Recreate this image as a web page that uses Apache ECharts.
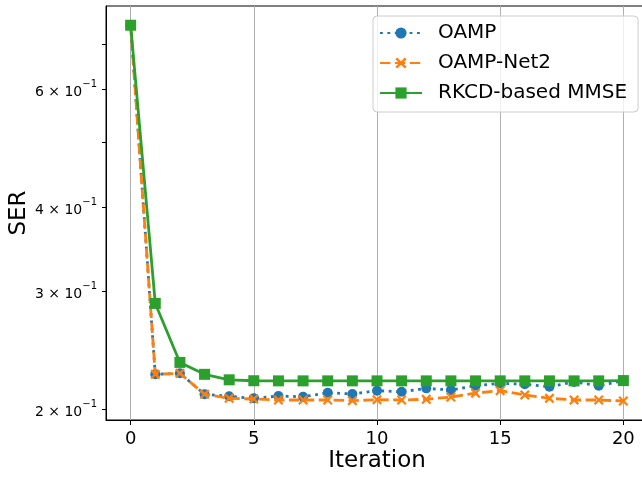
<!DOCTYPE html>
<html>
<head>
<meta charset="utf-8">
<script src="https://cdn.jsdelivr.net/npm/echarts@6/dist/echarts.min.js"></script>
<style>
  html, body { margin: 0; padding: 0; background: #fff; }
  #chart { width: 642px; height: 479px; }
</style>
</head>
<body>
<div id="chart"></div>
<script>
// Iteration index on the x axis
const iterations = [0, 1, 2, 3, 4, 5, 6, 7, 8, 9, 10, 11, 12, 13, 14, 15, 16, 17, 18, 19, 20];

// Symbol error rate per iteration for each detector
const oampSER = [0.747, 0.2253, 0.2261, 0.2104, 0.2089, 0.2075, 0.2091, 0.2086, 0.2115, 0.2106,
                 0.2130, 0.2122, 0.2147, 0.2135, 0.2167, 0.2185, 0.2177, 0.2159, 0.2195, 0.2167, 0.2205];
const oampNet2SER = [0.747, 0.2253, 0.2261, 0.2104, 0.2075, 0.2070, 0.2063, 0.2063, 0.2063, 0.2058,
                     0.2065, 0.2063, 0.2068, 0.2084, 0.2112, 0.2130, 0.2099, 0.2075, 0.2063, 0.2063, 0.2056];
const rkcdSER = [0.747, 0.2874, 0.2347, 0.2253, 0.2211, 0.2204, 0.2203, 0.2203, 0.2203, 0.2203,
                 0.2203, 0.2203, 0.2203, 0.2203, 0.2203, 0.2203, 0.2203, 0.2203, 0.2203, 0.2203, 0.2205];

const seriesNames = ['OAMP', 'OAMP-Net2', 'RKCD-based MMSE'];

// Axis ticks and labels
const xTickValues = [0, 5, 10, 15, 20];
const yTickValues = [0.2, 0.3, 0.4, 0.5, 0.6, 0.7];
const yLabelValues = [0.2, 0.3, 0.4, 0.6];

const FONT = 'DejaVu Sans';
const BLUE = '#1f77b4', ORANGE = '#ff7f0e', GREEN = '#2ca02c';
const X_MARK = 'path://M1.6,0 L10,8.4 L8.4,10 L0,1.6 Z M8.4,0 L10,1.6 L1.6,10 L0,8.4 Z';

const toPairs = (ys) => iterations.map((x, i) => [x, ys[i]]);

const chart = echarts.init(document.getElementById('chart'), null, { renderer: 'canvas' });

chart.setOption({
  animation: false,
  backgroundColor: '#ffffff',
  textStyle: { fontFamily: FONT },
  grid: {
    left: 106, top: 6, right: -6, bottom: 59,
    outerBoundsMode: 'none',
    containLabel: false,
    show: true, borderColor: '#000', borderWidth: 1, backgroundColor: 'transparent'
  },
  legend: {
    orient: 'vertical',
    left: 373, top: 16,
    width: 264,
    padding: [7, 11, 9, 6],
    itemWidth: 42, itemHeight: 14, itemGap: 10,
    backgroundColor: 'rgba(255,255,255,0.8)',
    borderColor: '#cccccc', borderWidth: 1, borderRadius: 4,
    textStyle: { fontFamily: FONT, fontSize: 20, color: '#000', lineHeight: 20, padding: [0, 0, 0, 11] },
    data: seriesNames
  },
  xAxis: {
    type: 'value',
    min: -1, max: 21,
    name: 'Iteration', nameLocation: 'middle', nameGap: 30,
    nameMoveOverlap: false,
    nameTextStyle: { fontFamily: FONT, fontSize: 23, color: '#000' },
    axisLine: { show: true, onZero: false, lineStyle: { color: '#000', width: 1 } },
    axisTick: { show: true, inside: false, length: 5, customValues: xTickValues, lineStyle: { color: '#000', width: 1 } },
    axisLabel: { customValues: xTickValues, margin: 10, fontFamily: FONT, fontSize: 18, color: '#000' },
    splitLine: { show: true, lineStyle: { color: '#b0b0b0', width: 1 } }
  },
  yAxis: {
    type: 'log', logBase: 10,
    min: 0.1926, max: 0.798,
    name: 'SER', nameLocation: 'middle', nameGap: 75,
    nameMoveOverlap: false,
    nameTextStyle: { fontFamily: FONT, fontSize: 23, color: '#000' },
    axisLine: { show: true, onZero: false, lineStyle: { color: '#000', width: 1 } },
    axisTick: { show: true, inside: false, length: 4, customValues: yTickValues, lineStyle: { color: '#000', width: 1 } },
    axisLabel: {
      customValues: yLabelValues, margin: 9, color: '#000',
      formatter: (v) => '{b|' + Math.round(v * 10) + ' \u00d7 10}{s|\u22121}',
      rich: {
        b: { fontFamily: FONT, fontSize: 14, color: '#000', lineHeight: 20, verticalAlign: 'bottom' },
        s: { fontFamily: FONT, fontSize: 10, color: '#000', lineHeight: 20, verticalAlign: 'top' }
      }
    },
    splitLine: { show: false },
    minorTick: { show: false }
  },
  series: [
    {
      name: seriesNames[0], type: 'line', data: toPairs(oampSER), z: 2,
      symbol: 'circle', symbolSize: 10,
      itemStyle: { color: BLUE },
      lineStyle: { color: BLUE, width: 2.8, type: [2.8, 4.6] }
    },
    {
      name: seriesNames[1], type: 'line', data: toPairs(oampNet2SER), z: 3,
      symbol: X_MARK, symbolSize: 10,
      itemStyle: { color: ORANGE },
      lineStyle: { color: ORANGE, width: 2.8, type: [10.4, 4.5] }
    },
    {
      name: seriesNames[2], type: 'line', data: toPairs(rkcdSER), z: 4,
      symbol: 'rect', symbolSize: 11,
      itemStyle: { color: GREEN },
      lineStyle: { color: GREEN, width: 2.8, type: 'solid' }
    }
  ]
});
</script>
</body>
</html>
